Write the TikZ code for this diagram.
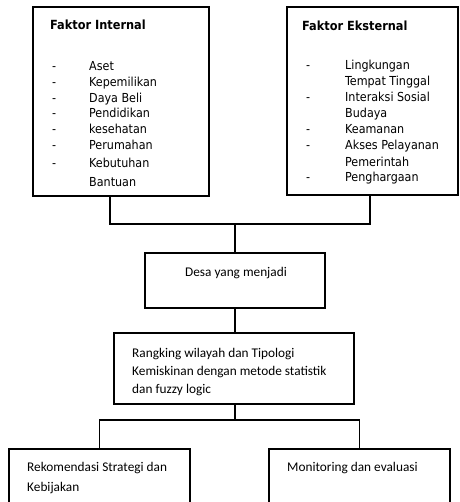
\documentclass[tikz,border=0pt]{standalone}
\usepackage{fontspec}
\newfontfamily\tahfont{DejaVu Sans Condensed}
\newfontfamily\calfont{Carlito}
\tikzset{
  box/.style={draw, line width=1.2pt, inner sep=0pt, outer sep=0pt, anchor=north west},
  itm/.style={inner sep=0pt, anchor=base west, font=\tahfont\fontsize{12.4}{15}\selectfont},
  hd/.style={inner sep=0pt, anchor=base west, font=\tahfont\bfseries\fontsize{12.6}{15}\selectfont},
  ctx/.style={inner sep=0pt, anchor=base west, font=\calfont\fontsize{13.3}{19}\selectfont},
  conn/.style={line width=1.2pt}
}
\begin{document}
\begin{tikzpicture}[x=1pt,y=-1pt]
\useasboundingbox (0,0) rectangle (459,502);
\clip (0,0) rectangle (459,502);
% boxes
\node[box, minimum width=176pt, minimum height=189pt] (fi) at (33,7) {};
\node[box, minimum width=171pt, minimum height=188pt] (fe) at (287,7) {};
\node[box, minimum width=180pt, minimum height=55pt] (desa) at (145,253) {};
\node[box, minimum width=240pt, minimum height=71pt] (rank) at (114,333) {};
\node[box, minimum width=181pt, minimum height=70pt] (rek) at (9,449) {};
\node[box, minimum width=181pt, minimum height=70pt] (mon) at (269,449) {};
% internal
\node[hd] (fih) at (50,30) {Faktor Internal};
\foreach \n/\y/\t in {a/71/Aset, b/87/Kepemilikan, c/103/Daya Beli, d/118/Pendidikan, e/134/kesehatan, f/150/Perumahan, g/168/Kebutuhan}{
  \node[itm] (fid\n) at (52,\y) {-};
  \node[itm] (fit\n) at (89,\y) {\t};
}
\node[itm] (fith) at (89,187) {Bantuan};
% external
\node[hd] (feh) at (302,31) {Faktor Eksternal};
\foreach \n/\y in {a/70, b/102, c/134, d/150, e/182}{
  \node[itm] (fed\n) at (306,\y) {-};
}
\node[itm] (fet1) at (345,70) {Lingkungan};
\node[itm] (fet2) at (345,86) {Tempat Tinggal};
\node[itm] (fet3) at (345,102) {Interaksi Sosial};
\node[itm] (fet4) at (345,118) {Budaya};
\node[itm] (fet5) at (345,134) {Keamanan};
\node[itm] (fet6) at (345,150) {Akses Pelayanan};
\node[itm] (fet7) at (345,167) {Pemerintah};
\node[itm] (fet8) at (345,182) {Penghargaan};
% middle texts
\node[ctx, anchor=base] (desat) at (236,276) {Desa yang menjadi};
\node[ctx] (rt1) at (132,357) {Rangking wilayah dan Tipologi};
\node[ctx] (rt2) at (132,375) {Kemiskinan dengan metode statistik};
\node[ctx] (rt3) at (132,393) {dan fuzzy logic};
\node[ctx] (rekt1) at (27,471) {Rekomendasi Strategi dan};
\node[ctx] (rekt2) at (27,491) {Kebijakan};
\node[ctx] (mont) at (287,471) {Monitoring dan evaluasi};
% connectors
\coordinate (j1) at (235,224);
\coordinate (j2) at (235,420);
\draw[conn] ([xshift=-11pt]fi.south) |- (j1) -| ([xshift=-2.5pt]fe.south);
\draw[conn] (j1) -- (desa.north -| j1);
\draw[conn] (desa.south -| j1) -- (rank.north -| j1);
\draw[conn] (rank.south -| j2) -- (j2);
\draw[conn] (rek.north) |- (j2) -| (mon.north);
\end{tikzpicture}
\end{document}
